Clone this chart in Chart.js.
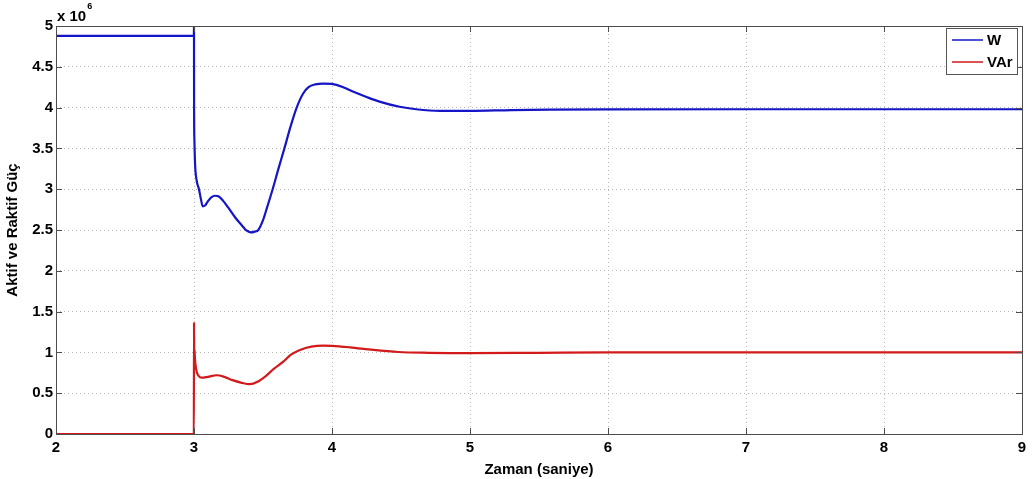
<!DOCTYPE html>
<html>
<head>
<meta charset="utf-8">
<script src="https://cdn.jsdelivr.net/npm/chart.js@4.4.1/dist/chart.umd.min.js"></script>
<style>
html,body{margin:0;padding:0;background:#fff;}
#wrap{width:1032px;height:479px;position:relative;}
</style>
</head>
<body>
<div id="wrap"><canvas id="c" width="1032" height="479"></canvas></div>
<script>
// ---- Data (values in units of 10^6) ----
const timeW = [2.0, 2.999, 3.0, 3.0005, 3.003, 3.008, 3.02, 3.036, 3.05, 3.063, 3.08, 3.10, 3.125, 3.152, 3.18, 3.21, 3.25, 3.30, 3.35, 3.37, 3.39, 3.413, 3.44, 3.466, 3.50, 3.53, 3.57, 3.61, 3.655, 3.70, 3.744, 3.79, 3.83, 3.88, 3.937, 4.0, 4.08, 4.16, 4.25, 4.35, 4.49, 4.61, 4.78, 5.0, 5.3, 5.58, 6.0, 7.0, 8.0, 9.0];
const seriesW = [4.88, 4.88, 5.0, 4.10, 3.60, 3.30, 3.10, 3.00, 2.88, 2.79, 2.80, 2.85, 2.90, 2.92, 2.91, 2.86, 2.77, 2.65, 2.55, 2.51, 2.485, 2.47, 2.48, 2.50, 2.62, 2.78, 3.00, 3.24, 3.50, 3.77, 4.00, 4.17, 4.25, 4.285, 4.295, 4.29, 4.25, 4.19, 4.13, 4.07, 4.01, 3.98, 3.96, 3.96, 3.97, 3.975, 3.978, 3.98, 3.98, 3.98];

const timeVAr = [2.0, 2.999, 3.0, 3.002, 3.004, 3.006, 3.015, 3.03, 3.056, 3.10, 3.165, 3.22, 3.28, 3.34, 3.406, 3.46, 3.52, 3.58, 3.647, 3.70, 3.768, 3.85, 3.937, 4.0, 4.13, 4.3, 4.48, 4.7, 5.0, 5.5, 6.0, 7.0, 8.0, 9.0];
const seriesVAr = [0, 0, 1.37, 0.85, 1.03, 0.95, 0.80, 0.72, 0.69, 0.70, 0.72, 0.70, 0.66, 0.63, 0.61, 0.64, 0.71, 0.80, 0.886, 0.97, 1.03, 1.07, 1.082, 1.08, 1.062, 1.03, 1.005, 0.995, 0.99, 0.995, 1.0, 1.0, 1.0, 1.0];

const seriesNames = ['W', 'VAr'];
const seriesColors = ['#1414c8', '#d21a1a'];
const xTicks = [2, 3, 4, 5, 6, 7, 8, 9];
const yTicks = [0, 0.5, 1, 1.5, 2, 2.5, 3, 3.5, 4, 4.5, 5];
const xTitle = 'Zaman (saniye)';
const yTitle = 'Aktif ve Raktif Güç';
const yExponent = '6';

const FONT = '"Liberation Sans", Arial, Helvetica, sans-serif';

function toXY(xs, ys) { return xs.map((x, i) => ({x: x, y: ys[i]})); }

const matlabAxes = {
  id: 'matlabAxes',
  afterDatasetsDraw(chart) {
    const ctx = chart.ctx, a = chart.chartArea;
    const xs = chart.scales.x, ys = chart.scales.y;
    ctx.save();
    // box
    ctx.strokeStyle = '#4d4d4d';
    ctx.lineWidth = 1;
    ctx.strokeRect(Math.round(a.left) + 0.5, Math.round(a.top) + 0.5, Math.round(a.right - a.left), Math.round(a.bottom - a.top));
    // inward ticks
    const tl = 6;
    ctx.beginPath();
    xTicks.forEach(v => {
      const px = Math.round(xs.getPixelForValue(v)) + 0.5;
      ctx.moveTo(px, a.bottom); ctx.lineTo(px, a.bottom - tl);
      ctx.moveTo(px, a.top); ctx.lineTo(px, a.top + tl);
    });
    yTicks.forEach(v => {
      const py = Math.round(ys.getPixelForValue(v)) + 0.5;
      ctx.moveTo(a.left, py); ctx.lineTo(a.left + tl, py);
      ctx.moveTo(a.right, py); ctx.lineTo(a.right - tl, py);
    });
    ctx.stroke();
    // exponent label
    ctx.fillStyle = '#000';
    ctx.textBaseline = 'alphabetic';
    ctx.textAlign = 'left';
    ctx.font = 'bold 15px ' + FONT;
    ctx.fillText('x 10', 57, 21);
    const w = ctx.measureText('x 10').width;
    ctx.font = 'bold 9px ' + FONT;
    ctx.fillText(yExponent, 57 + w + 1, 9);
    // legend
    const lx = 946, ly = 28, lw = 71, lh = 46;
    ctx.fillStyle = '#fff';
    ctx.fillRect(lx, ly, lw, lh);
    ctx.strokeStyle = '#555';
    ctx.strokeRect(lx + 0.5, ly + 0.5, lw, lh);
    chart.data.datasets.forEach((ds, i) => {
      const y = ly + 12 + i * 22;
      ctx.strokeStyle = ds.borderColor;
      ctx.lineWidth = 1.5;
      ctx.beginPath();
      ctx.moveTo(lx + 6, y); ctx.lineTo(lx + 37, y);
      ctx.stroke();
      ctx.fillStyle = '#000';
      ctx.font = 'bold 15px ' + FONT;
      ctx.textBaseline = 'middle';
      ctx.fillText(ds.label, lx + 41, y + 1);
    });
    ctx.restore();
  }
};

new Chart(document.getElementById('c'), {
  type: 'line',
  data: {
    datasets: [
      {label: seriesNames[0], data: toXY(timeW, seriesW), borderColor: seriesColors[0], borderWidth: 2.2, pointRadius: 0, cubicInterpolationMode: 'monotone', fill: false},
      {label: seriesNames[1], data: toXY(timeVAr, seriesVAr), borderColor: seriesColors[1], borderWidth: 2.2, pointRadius: 0, cubicInterpolationMode: 'monotone', fill: false}
    ]
  },
  options: {
    responsive: false,
    animation: false,
    layout: {padding: {top: 26, right: 10, left: 0, bottom: 0}},
    plugins: {legend: {display: false}, tooltip: {enabled: false}},
    scales: {
      x: {
        type: 'linear', min: 2, max: 9,
        afterBuildTicks: s => { s.ticks = xTicks.map(v => ({value: v})); },
        afterFit: s => { s.height = 45; },
        ticks: {color: '#000', font: {family: FONT, size: 15, weight: 'bold'}, padding: 5, maxRotation: 0, autoSkip: false},
        grid: {color: '#b4b4b4', drawTicks: false, lineWidth: 1},
        border: {display: false, dash: [1, 3]},
        title: {display: true, text: xTitle, color: '#000', font: {family: FONT, size: 15, weight: 'bold'}, padding: {top: 6, bottom: 0}}
      },
      y: {
        type: 'linear', min: 0, max: 5,
        afterBuildTicks: s => { s.ticks = yTicks.map(v => ({value: v})); },
        afterFit: s => { s.width = 56; },
        ticks: {color: '#000', font: {family: FONT, size: 15, weight: 'bold'}, padding: 3, autoSkip: false, callback: v => String(v)},
        grid: {color: '#b4b4b4', drawTicks: false, lineWidth: 1},
        border: {display: false, dash: [1, 3]},
        title: {display: true, text: yTitle, color: '#000', font: {family: FONT, size: 15, weight: 'bold'}, padding: {top: 4, bottom: 0}}
      }
    }
  },
  plugins: [matlabAxes]
});
</script>
</body>
</html>
